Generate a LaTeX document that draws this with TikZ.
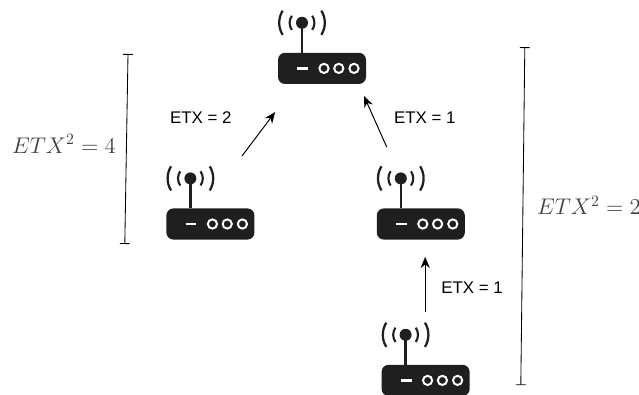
\documentclass[tikz,border=0pt]{standalone}
\usepackage{fontspec}
\setmainfont{Liberation Sans}
\usepackage{amsmath}
\usetikzlibrary{arrows.meta, positioning}

\begin{document}
\begin{tikzpicture}[
  body/.style={fill=black!88, rounded corners=5pt, minimum width=2.2cm, minimum height=0.78cm,
               inner sep=0pt},
  etx/.style={font=\fontsize{12}{14}\selectfont, inner sep=0pt},
  metric/.style={font=\fontsize{14.4}{16}\selectfont, text=black!75, inner sep=0pt,
                 scale=1.12, transform shape},
  link/.style={-{Stealth[length=8pt, width=6.5pt]}, line width=0.7pt},
  span/.style={{Bar[width=7pt]}-{Bar[width=7pt]}, line width=0.6pt},
  router/.pic={
    \node[body] (box) at (0, 0) {};
    \draw[line width=1.6pt, black!88] (-0.5, 1.14) -- (-0.5, 0.39);
    \fill[black!88] (-0.5, 1.14) circle (0.15);
    \draw[line width=1.5pt, black!88] (-0.5, 1.14) ++(145:0.31) arc (145:215:0.31);
    \draw[line width=1.5pt, black!88] (-0.5, 1.14) ++(35:0.31) arc (35:-35:0.31);
    \draw[line width=1.6pt, black!88] (-0.5, 1.14) ++(148:0.57) arc (148:212:0.57);
    \draw[line width=1.6pt, black!88] (-0.5, 1.14) ++(32:0.57) arc (32:-32:0.57);
    \draw[line width=1.8pt, white] (-0.62, 0) -- (-0.35, 0);
    \foreach \x in {0.05, 0.42, 0.8}
      \draw[line width=1.4pt, white] (\x, 0) circle (0.115);
  },
]
\useasboundingbox (0, 0) rectangle (15.975, 9.85);

% Routers
\pic (top) at (8.05, 8.14) {router};
\pic (left) at (5.26, 4.25) {router};
\pic (mid) at (10.52, 4.25) {router};
\pic (low) at (10.64, 0.34) {router};

% Links
\coordinate (lefttail) at (6.05, 5.95);
\coordinate (lefthead) at (6.88, 7.05);
\coordinate (midtail) at (9.67, 6.17);
\coordinate (midhead) at (9.1, 7.45);
\coordinate (lowtail) at (10.63, 2.05);
\coordinate (lowhead) at (10.63, 3.43);

\draw[link] (lefttail) -- (lefthead);
\draw[link] (midtail) -- (midhead);
\draw[link] (lowtail) -- (lowhead);

\node[etx] (leftcost) at (5.02, 6.9) {ETX = 2};
\node[etx] (midcost) at (10.62, 6.9) {ETX = 1};
\node[etx] (lowcost) at (11.8, 2.65) {ETX = 1};

% Totals
\coordinate (ltop) at (3.2, 8.5);
\coordinate (lbot) at (3.12, 3.75);
\coordinate (rtop) at (13.12, 8.67);
\coordinate (rbot) at (13.02, 0.22);

\draw[span] (ltop) -- (lbot);
\draw[span] (rtop) -- (rbot);

\node[metric] (leftsum) at (1.6, 6.25) {$ETX^2=4$};
\node[metric, anchor=west] (rightsum) at (13.42, 4.72) {$ETX^2=2$};
\end{tikzpicture}
\end{document}
